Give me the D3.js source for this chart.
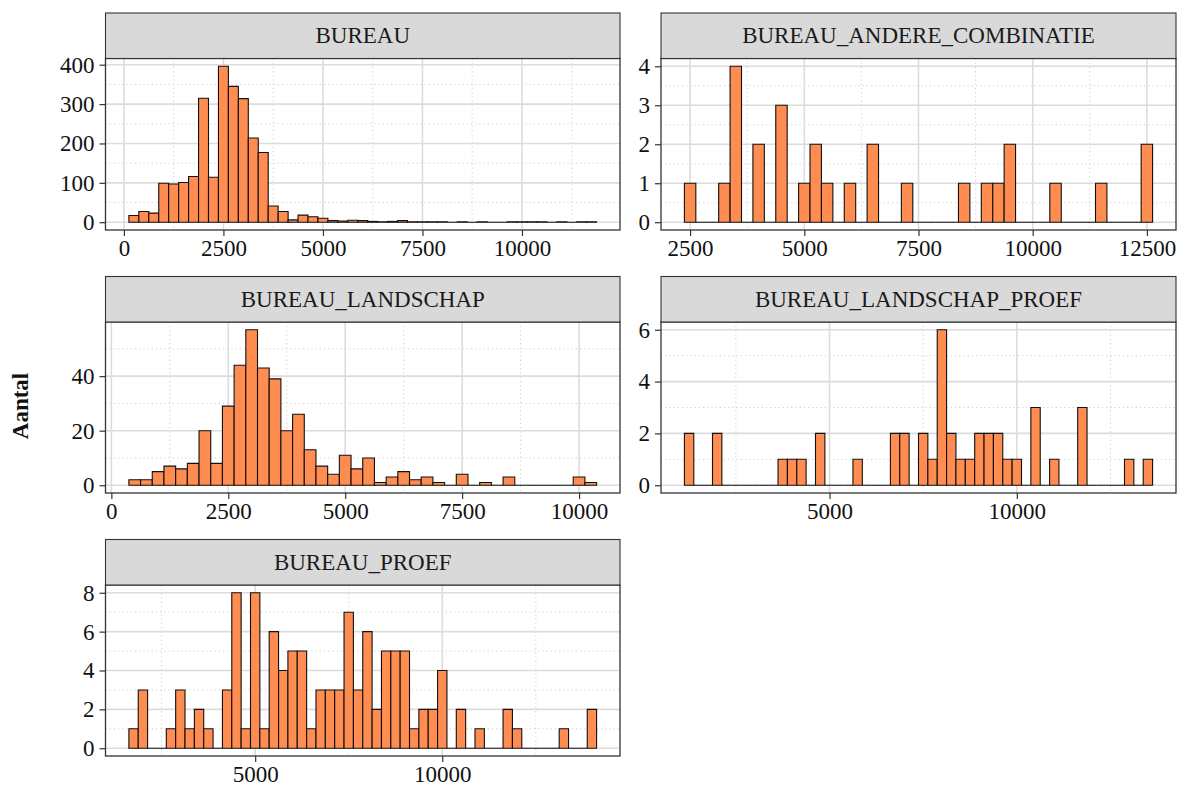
<!DOCTYPE html>
<html>
<head>
<meta charset="utf-8">
<script src="https://cdn.jsdelivr.net/npm/d3@7"></script>
<style>
  html, body { margin: 0; padding: 0; background: #fff; }
  svg { display: block; }
</style>
</head>
<body>
<svg id="chart" width="1181" height="787"></svg>
<script>
// ---------------- DATA ----------------
const binWidth = 250;

const panelNames = ["BUREAU", "BUREAU_ANDERE_COMBINATIE", "BUREAU_LANDSCHAP", "BUREAU_LANDSCHAP_PROEF", "BUREAU_PROEF"];

// first bin centre of each panel
const firstCentres = [250, 2500, 500, 1250, 1750];

const bureauCounts = [17, 27, 23, 99, 97, 101, 116, 315, 114, 396,
  345, 314, 214, 177, 41, 27, 6, 18, 14, 10,
  4, 3, 5, 4, 2, 1, 2, 4, 1, 1,
  1, 1, 0, 1, 0, 1, 0, 0, 1, 1,
  1, 1, 0, 1, 0, 1, 1];

const andereCombinatieCounts = [1, 0, 0, 1, 4, 0, 2, 0, 3, 0,
  1, 2, 1, 0, 1, 0, 2, 0, 0, 1,
  0, 0, 0, 0, 1, 0, 1, 1, 2, 0,
  0, 0, 1, 0, 0, 0, 1, 0, 0, 0, 2];

const landschapCounts = [2, 2, 5, 7, 6, 8, 20, 8, 29, 44,
  57, 43, 39, 20, 26, 13, 7, 4, 11, 6,
  10, 1, 3, 5, 2, 3, 1, 0, 4, 0,
  1, 0, 3, 0, 0, 0, 0, 0, 3, 1];

const landschapProefCounts = [2, 0, 0, 2, 0, 0, 0, 0, 0, 0,
  1, 1, 1, 0, 2, 0, 0, 0, 1, 0,
  0, 0, 2, 2, 0, 2, 1, 6, 2, 1,
  1, 2, 2, 2, 1, 1, 0, 3, 0, 1,
  0, 0, 3, 0, 0, 0, 0, 1, 0, 1];

const proefCounts = [1, 3, 0, 0, 1, 3, 1, 2, 1, 0,
  3, 8, 1, 8, 1, 6, 4, 5, 5, 1,
  3, 3, 3, 7, 3, 6, 2, 5, 5, 5,
  1, 2, 2, 4, 0, 2, 0, 1, 0, 0,
  2, 1, 0, 0, 0, 0, 1, 0, 0, 2];

const panelCounts = [bureauCounts, andereCombinatieCounts, landschapCounts, landschapProefCounts, proefCounts];

const xTickValues = [
  [0, 2500, 5000, 7500, 10000],
  [2500, 5000, 7500, 10000, 12500],
  [0, 2500, 5000, 7500, 10000],
  [5000, 10000],
  [5000, 10000]
];
const yTickValues = [
  [0, 100, 200, 300, 400],
  [0, 1, 2, 3, 4],
  [0, 20, 40],
  [0, 2, 4, 6],
  [0, 2, 4, 6, 8]
];

const yTitle = "Aantal";

// ---------------- LAYOUT ----------------
const colX = [[105.5, 620], [661, 1176]];
const rowY = [[58.5, 230], [322, 493], [585, 756]];
const stripH = 45.5;

const barFill = "#FF8C50";
const serif = "'Liberation Serif', 'Times New Roman', serif";

const svg = d3.select("#chart");

function minorBetween(ticks, lo, hi) {
  const step = ticks.length > 1 ? ticks[1] - ticks[0] : 1;
  const out = [];
  let start = ticks[0] - step / 2;
  while (start - step >= lo) start -= step;
  for (let v = start; v <= hi; v += step) {
    if (v >= lo && v <= hi && !ticks.includes(v)) out.push(v);
  }
  return out;
}

panelNames.forEach((name, i) => {
  const col = i % 2, row = Math.floor(i / 2);
  const [x0, x1] = colX[col];
  const [y0, y1] = rowY[row];
  const counts = panelCounts[i];
  const bins = counts.map((c, k) => ({ centre: firstCentres[i] + k * binWidth, count: c }));
  const lo = bins[0].centre - binWidth / 2;
  const hi = bins[bins.length - 1].centre + binWidth / 2;
  const span = hi - lo;
  const maxC = d3.max(counts);

  const x = d3.scaleLinear().domain([lo - 0.05 * span, hi + 0.05 * span]).range([x0, x1]);
  const y = d3.scaleLinear().domain([-0.05 * maxC, maxC * 1.05]).range([y1, y0]);

  const g = svg.append("g");

  g.append("rect").attr("x", x0).attr("y", y0).attr("width", x1 - x0).attr("height", y1 - y0)
    .attr("fill", "#fff");

  const xt = xTickValues[i], yt = yTickValues[i];
  const xd = x.domain(), yd = y.domain();
  const xMinor = minorBetween(xt, xd[0], xd[1]);
  const yMinor = minorBetween(yt, yd[0], yd[1]);
  g.selectAll(".xminor").data(xMinor).enter().append("line")
    .attr("x1", d => x(d)).attr("x2", d => x(d)).attr("y1", y0).attr("y2", y1)
    .attr("stroke", "#cfcfcf").attr("stroke-width", 1).attr("stroke-dasharray", "1.2,3");
  g.selectAll(".yminor").data(yMinor).enter().append("line")
    .attr("y1", d => y(d)).attr("y2", d => y(d)).attr("x1", x0).attr("x2", x1)
    .attr("stroke", "#cfcfcf").attr("stroke-width", 1).attr("stroke-dasharray", "1.2,3");

  g.selectAll(".xmajor").data(xt).enter().append("line")
    .attr("x1", d => x(d)).attr("x2", d => x(d)).attr("y1", y0).attr("y2", y1)
    .attr("stroke", "#dcdcdc").attr("stroke-width", 1.6);
  g.selectAll(".ymajor").data(yt).enter().append("line")
    .attr("y1", d => y(d)).attr("y2", d => y(d)).attr("x1", x0).attr("x2", x1)
    .attr("stroke", "#dcdcdc").attr("stroke-width", 1.6);

  // bars as closed paths so that empty bins still show their outline
  g.selectAll(".bar").data(bins).enter().append("path")
    .attr("d", d => {
      const bx0 = x(d.centre - binWidth / 2), bx1 = x(d.centre + binWidth / 2);
      const by0 = y(0), by1 = y(d.count);
      return `M${bx0},${by0}H${bx1}V${by1}H${bx0}Z`;
    })
    .attr("fill", barFill)
    .attr("stroke", "#111")
    .attr("stroke-width", 1.1)
    .attr("stroke-linejoin", "miter");

  g.append("rect").attr("x", x0).attr("y", y0).attr("width", x1 - x0).attr("height", y1 - y0)
    .attr("fill", "none").attr("stroke", "#333").attr("stroke-width", 1.3);

  g.append("rect").attr("x", x0).attr("y", y0 - stripH).attr("width", x1 - x0).attr("height", stripH)
    .attr("fill", "#d9d9d9").attr("stroke", "#333").attr("stroke-width", 1.1);
  g.append("text").attr("x", (x0 + x1) / 2).attr("y", y0 - stripH / 2)
    .attr("text-anchor", "middle").attr("dominant-baseline", "central")
    .attr("font-family", serif).attr("font-size", 23).attr("fill", "#1a1a1a")
    .text(name);

  const xAxis = d3.axisBottom(x).tickValues(xt).tickSize(6).tickPadding(4).tickFormat(d3.format("d"));
  const yAxis = d3.axisLeft(y).tickValues(yt).tickSize(6).tickPadding(5).tickFormat(d3.format("d"));
  const gx = g.append("g").attr("transform", `translate(0,${y1})`).call(xAxis);
  const gy = g.append("g").attr("transform", `translate(${x0},0)`).call(yAxis);
  [gx, gy].forEach(a => {
    a.select(".domain").remove();
    a.selectAll(".tick line").attr("stroke", "#333").attr("stroke-width", 1.2);
    a.selectAll(".tick text").attr("font-family", serif).attr("font-size", 23).attr("fill", "#111");
  });
});

svg.append("text")
  .attr("transform", "translate(28,406) rotate(-90)")
  .attr("text-anchor", "middle")
  .attr("font-family", serif).attr("font-weight", "bold").attr("font-size", 23).attr("fill", "#111")
  .text(yTitle);
</script>
</body>
</html>
